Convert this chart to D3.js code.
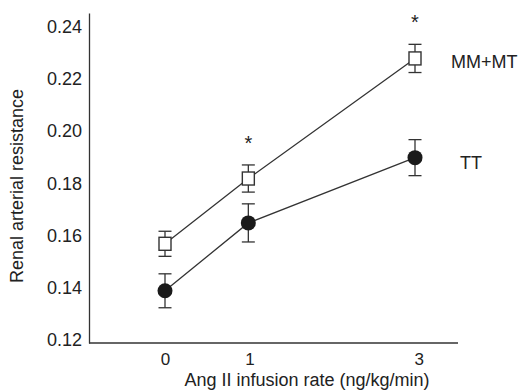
<!DOCTYPE html>
<html>
<head>
<meta charset="utf-8">
<script src="https://cdn.jsdelivr.net/npm/d3@7/dist/d3.min.js"></script>
<style>
  body { margin: 0; background: #fff; }
  svg text { font-family: "Liberation Sans", Arial, sans-serif; fill: #222; }
</style>
</head>
<body>
<svg width="519" height="391"></svg>
<script>
// infusion rates (ng/kg/min)
var doses = [0, 1, 3];
var doseLabels = ["0", "1", "3"];

// MM+MT group (open squares)
var mmValues = [0.158, 0.183, 0.229];
var mmErrors = [0.0048, 0.0052, 0.0054];

// TT group (filled circles)
var ttValues = [0.140, 0.166, 0.191];
var ttErrors = [0.0065, 0.0073, 0.0069];

var yTicks = [0.12, 0.14, 0.16, 0.18, 0.20, 0.22, 0.24];
var starDoses = [1, 3];

var svg = d3.select("svg"),
    plotLeft = 89, plotRight = 458, plotTop = 13, plotBottom = 343;

var x = d3.scaleLinear()
    .domain([0, 3])
    .range([165, 415]);

var y = d3.scaleLinear()
    .domain([0.12, 0.2464])
    .range([plotBottom, plotTop]);

// y axis
svg.append("g")
    .attr("transform", "translate(" + plotLeft + ",0)")
    .call(d3.axisLeft(y).tickValues(yTicks).tickSize(0).tickPadding(7).tickFormat(d3.format(".2f")))
    .call(function (g) {
        g.select(".domain").attr("stroke", "#333").attr("stroke-width", 1.3);
        g.selectAll("text").attr("font-size", 18).attr("dy", "0.15em");
    });

// x axis line
svg.append("line")
    .attr("x1", plotLeft).attr("x2", plotRight)
    .attr("y1", plotBottom).attr("y2", plotBottom)
    .attr("stroke", "#333").attr("stroke-width", 1.3);

svg.append("g")
    .attr("transform", "translate(0," + plotBottom + ")")
    .call(d3.axisBottom(x).tickValues(doses).tickSize(0).tickPadding(10)
        .tickFormat(function (d, i) { return doseLabels[i]; }))
    .call(function (g) {
        g.select(".domain").remove();
        g.selectAll("text").attr("font-size", 17).attr("dx", function (d) { return d * 1.2; });
    });

// axis titles
svg.append("text")
    .attr("transform", "translate(23,186) rotate(-90)")
    .attr("text-anchor", "middle")
    .attr("font-size", 18)
    .text("Renal arterial resistance");

svg.append("text")
    .attr("x", 307).attr("y", 386)
    .attr("text-anchor", "middle")
    .attr("font-size", 18)
    .text("Ang II infusion rate (ng/kg/min)");

var line = d3.line()
    .x(function (d) { return x(d[0]); })
    .y(function (d) { return y(d[1]); });

function drawSeries(values, errors) {
    var pts = doses.map(function (d, i) { return [d, values[i], errors[i]]; });
    svg.append("path")
        .datum(pts)
        .attr("d", line)
        .attr("fill", "none")
        .attr("stroke", "#333")
        .attr("stroke-width", 1.3);

    var eb = svg.append("g").attr("stroke", "#333").attr("stroke-width", 1.3);
    pts.forEach(function (p) {
        var cx = x(p[0]);
        eb.append("line")
            .attr("x1", cx).attr("x2", cx)
            .attr("y1", y(p[1] - p[2])).attr("y2", y(p[1] + p[2]));
        [p[1] - p[2], p[1] + p[2]].forEach(function (v) {
            eb.append("line")
                .attr("x1", cx - 6.5).attr("x2", cx + 6.5)
                .attr("y1", y(v)).attr("y2", y(v));
        });
    });
    return pts;
}

var mmPts = drawSeries(mmValues, mmErrors);
var ttPts = drawSeries(ttValues, ttErrors);

svg.selectAll(".sq")
    .data(mmPts)
    .enter().append("rect")
    .attr("class", "sq")
    .attr("x", function (d) { return x(d[0]) - 6; })
    .attr("y", function (d) { return y(d[1]) - 6.5; })
    .attr("width", 12)
    .attr("height", 13)
    .attr("fill", "#fff")
    .attr("stroke", "#333")
    .attr("stroke-width", 1.4);

svg.selectAll(".dot")
    .data(ttPts)
    .enter().append("circle")
    .attr("class", "dot")
    .attr("cx", function (d) { return x(d[0]); })
    .attr("cy", function (d) { return y(d[1]); })
    .attr("r", 7.5)
    .attr("fill", "#1a1a1a");

// significance stars above MM+MT error bars
svg.selectAll(".star")
    .data(starDoses)
    .enter().append("text")
    .attr("class", "star")
    .attr("x", function (d) { return x(d); })
    .attr("y", function (d) {
        var i = doses.indexOf(d);
        return y(mmValues[i] + mmErrors[i]) - 15;
    })
    .attr("text-anchor", "middle")
    .attr("font-size", 20)
    .text("*");

// series labels
svg.append("text")
    .attr("x", 451).attr("y", y(mmValues[2]) + 10)
    .attr("font-size", 18)
    .text("MM+MT");

svg.append("text")
    .attr("x", 460).attr("y", y(ttValues[2]) + 11)
    .attr("font-size", 18)
    .text("TT");
</script>
</body>
</html>
